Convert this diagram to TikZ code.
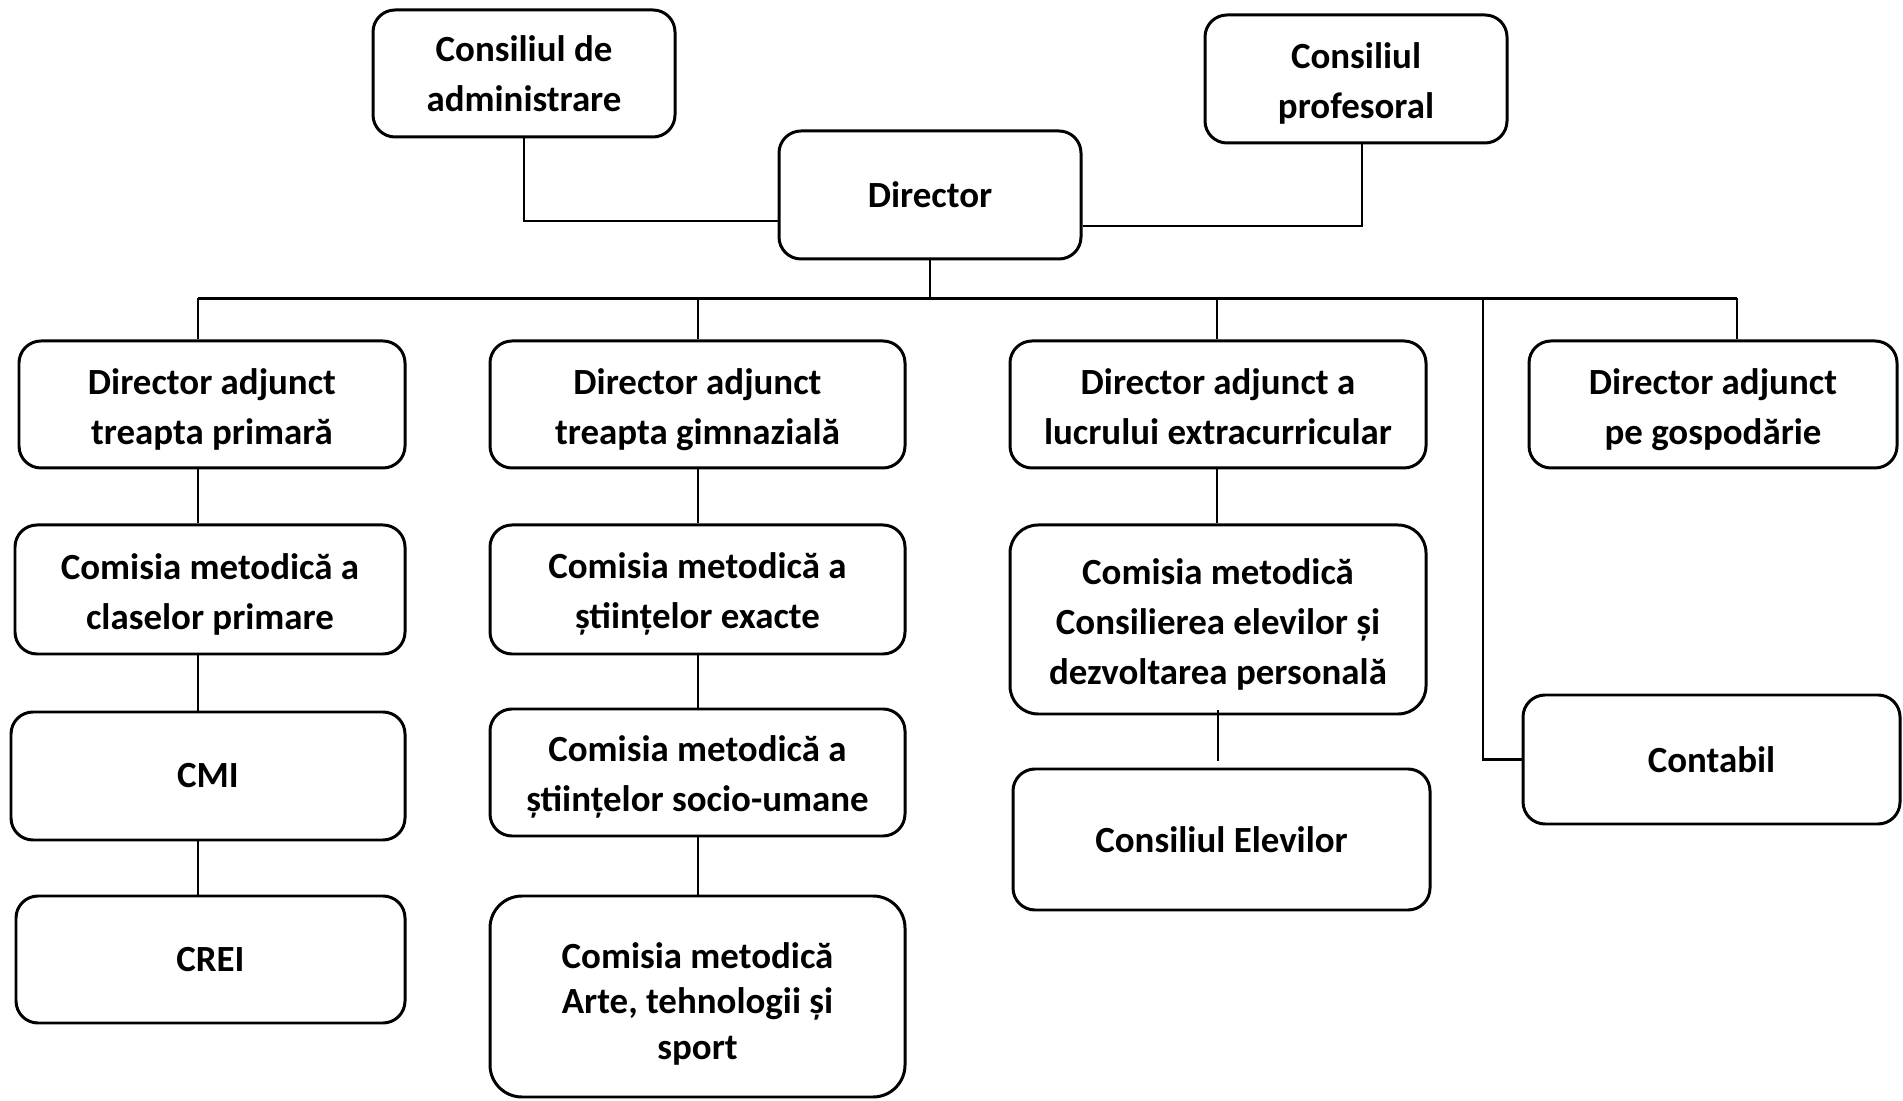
\documentclass[tikz,border=0pt]{standalone}
\usepackage{fontspec}
\setmainfont{Carlito}
\usepackage{tikz}
\newcommand{\lift}[1][10.1pt]{\rule{0pt}{#1}}

\begin{document}
\begin{tikzpicture}[
    box/.style={draw, line width=0.85pt, rounded corners=0.22cm, align=center, inner sep=0pt,
                font=\fontsize{10.5}{14.2}\selectfont\bfseries},
    link/.style={line width=0.75pt}]
    \useasboundingbox (0,0) rectangle (19.03,11.00);
    % Councils and Director
    \node[box, minimum width=3.02cm, minimum height=1.27cm] (cda) at (5.24, 10.265) {Consiliul de\\administrare};
    \node[box, minimum width=3.02cm, minimum height=1.28cm] (cp) at (13.56, 10.21) {\lift Consiliul\\profesoral};
    \node[box, minimum width=3.02cm, minimum height=1.28cm] (dir) at (9.30, 9.05) {Director};
    % Deputy directors
    \node[box, minimum width=3.86cm, minimum height=1.27cm] (dap) at (2.12, 6.955) {\lift Director adjunct\\treapta primară};
    \node[box, minimum width=4.15cm, minimum height=1.27cm] (dag) at (6.975, 6.955) {\lift Director adjunct\\treapta gimnazială};
    \node[box, minimum width=4.16cm, minimum height=1.27cm] (dae) at (12.18, 6.955) {\lift[8.8pt]Director adjunct a\\lucrului extracurricular};
    \node[box, minimum width=3.68cm, minimum height=1.27cm] (dah) at (17.13, 6.955) {\lift Director adjunct\\pe gospodărie};
    % Commissions
    \node[box, minimum width=3.90cm, minimum height=1.29cm] (cmp) at (2.10, 5.105) {\lift Comisia metodică a\\claselor primare};
    \node[box, minimum width=4.15cm, minimum height=1.29cm] (cme) at (6.975, 5.105) {\lift Comisia metodică a\\științelor exacte};
    \node[box, minimum width=4.16cm, minimum height=1.89cm, rounded corners=0.28cm] (cmc) at (12.18, 4.805) {\lift Comisia metodică\\Consilierea elevilor și\\dezvoltarea personală};
    \node[box, minimum width=3.94cm, minimum height=1.28cm] (cmi) at (2.08, 3.24) {CMI};
    \node[box, minimum width=4.15cm, minimum height=1.27cm] (cms) at (6.975, 3.275) {\lift Comisia metodică a\\științelor socio-umane};
    \node[box, minimum width=4.17cm, minimum height=1.41cm] (cel) at (12.215, 2.605) {Consiliul Elevilor};
    \node[box, minimum width=3.77cm, minimum height=1.29cm] (con) at (17.115, 3.405) {Contabil};
    \node[box, minimum width=3.89cm, minimum height=1.27cm] (crei) at (2.105, 1.405) {CREI};
    \node[box, minimum width=4.15cm, minimum height=2.01cm, rounded corners=0.32cm,
          font=\fontsize{10.5}{13}\selectfont\bfseries] (cma) at (6.975, 1.035) {\lift[11.5pt]Comisia metodică\\Arte, tehnologii și\\sport};
    %
    % Bus under the Director
    \coordinate (c1) at (1.98, 8.015);
    \coordinate (c2) at (6.98, 8.015);
    \coordinate (c3) at (12.17, 8.015);
    \coordinate (c4) at (14.83, 8.015);
    \coordinate (c5) at (17.37, 8.015);
    \draw[link] (cda.south) |- ([yshift=-0.26cm]dir.west);
    \draw[link] ([yshift=-0.31cm]dir.east) -| ([xshift=0.06cm]cp.south);
    \draw[link] (dir.south) -- (dir.south |- c1);
    \draw[link] (c1) -- (c5);
    \draw[link] (c1) -- (c1 |- dap.north);
    \draw[link] (c2) -- (c2 |- dag.north);
    \draw[link] (c3) -- (c3 |- dae.north);
    \draw[link] (c4) |- (con.west);
    \draw[link] (c5) -- (c5 |- dah.north);
    % Columns
    \draw[link] (dap.south -| c1) -- (cmp.north -| c1);
    \draw[link] (cmp.south -| c1) -- (cmi.north -| c1);
    \draw[link] (cmi.south -| c1) -- (crei.north -| c1);
    \draw[link] (dag.south -| c2) -- (cme.north -| c2);
    \draw[link] (cme.south -| c2) -- (cms.north -| c2);
    \draw[link] (cms.south -| c2) -- (cma.north -| c2);
    \draw[link] (dae.south -| c3) -- (cmc.north -| c3);
    \draw[line width=0.5pt] ([yshift=0.05cm]cmc.south) -- ([yshift=0.07cm]cmc.south |- cel.north);
\end{tikzpicture}
\end{document}
